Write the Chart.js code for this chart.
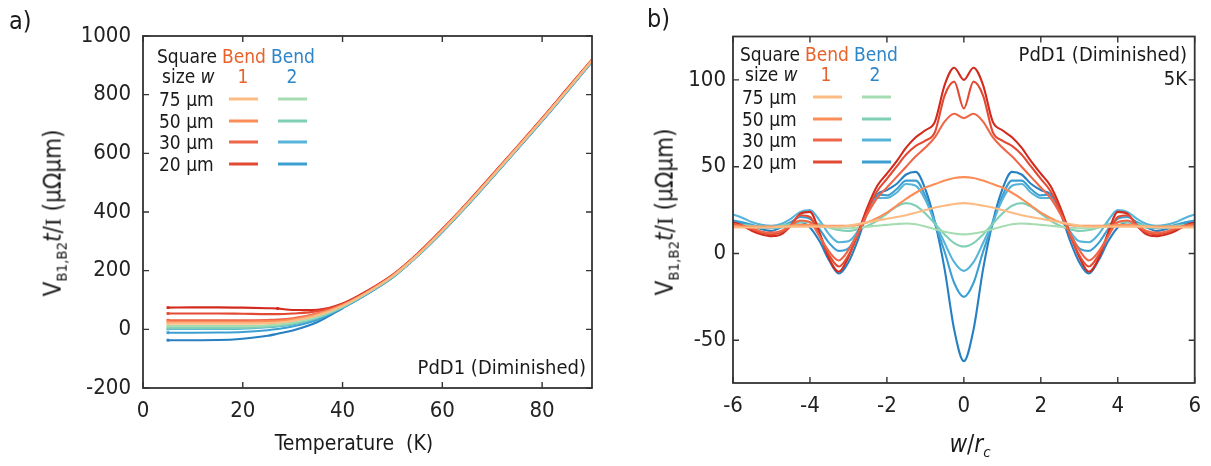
<!DOCTYPE html>
<html><head><meta charset="utf-8">
<script src="https://cdn.jsdelivr.net/npm/chart.js@4.4.1/dist/chart.umd.min.js"></script>
<style>
body{margin:0;width:1211px;height:466px;background:#fff;position:relative;overflow:hidden;font-family:'DejaVu Sans Condensed','DejaVu Sans',sans-serif;color:#1a1a1a}
canvas{position:absolute;top:0}
#ca{left:0}
#cb{left:605px}
.t{position:absolute;white-space:nowrap;line-height:1}
.c{transform:translate(-50%,-50%)}
.r{transform:translate(0,-50%)}
.sw{position:absolute;height:3px;width:29px;transform:translate(0,-50%)}
.serif{font-family:'Liberation Serif',serif}
sub{font-size:0.62em}
</style></head><body>
<canvas id="ca" width="605" height="466" style="width:605px;height:466px"></canvas>
<canvas id="cb" width="606" height="466" style="width:606px;height:466px"></canvas>
<div id="ov"></div>
<script>
// ---------- Panel a data ----------
const tempK = [5,10,15,20,25,27,30,35,40,45,50,55,60,65,70,75,80,85,90];
const aD1 = [74,75,75,74,72,71,66,67,88,132,186,258,342,432,527,623,720,820,920];
const aR1 = [54,54,54,53,52,52,54,62,86,130,184,256,340,430,525,621,718,818,919];
const aO1 = [31,31,31,31,32,33,38,55,84,128,183,255,339,429,524,620,717,817,918];
const aOr = [26,26,26,26,27,28,34,52,82,127,182,254,338,428,523,619,716,816,918];
const aLO = [19,19,19,19,21,23,29,48,80,126,181,253,337,427,522,618,715,815,917];
const aLG = [11,11,11,11,14,16,23,44,78,125,180,252,336,426,521,617,714,814,916];
const aTe = [4,4,4,5,9,12,19,40,76,124,179,251,335,425,520,616,713,813,915];
const aB30 = [1,1,1,2,7,10,17,38,75,123,178,250,334,424,519,615,712,812,914];
const aB20 = [-11.5,-11.5,-11,-9,-3,1,10,33,74,122,177,250,333,423,518,614,711,811,913];
const aDB = [-37,-37,-36.5,-32,-22,-15,-4,25,72,121,176,249,332,422,517,613,710,810,912];
const aXTicks = [0,20,40,60,80];
const aYTicks = [-200,0,200,400,600,800,1000];

// ---------- Panel b data ----------
const wrc = [-6,-5.75,-5.5,-5.25,-5,-4.75,-4.5,-4.25,-4,-3.75,-3.5,-3.25,-3,-2.75,-2.5,-2.25,-2,-1.75,-1.5,-1.25,-1,-0.75,-0.5,-0.25,0,0.25,0.5,0.75,1,1.25,1.5,1.75,2,2.25,2.5,2.75,3,3.25,3.5,3.75,4,4.25,4.5,4.75,5,5.25,5.5,5.75,6];
const bD1 = [18,16,13,11,10,11,16,23,24,12,-3,-10.5,-2,12,27,39,46,53,61,67,71,76,97,107,100,107,97,76,71,67,61,53,46,39,27,12,-2,-10.5,-3,12,24,23,16,11,10,11,13,16,18];
const bR1 = [17,16,14,12,11,12,16,22,21,10,-1,-7.5,-1,11,25,36,43,50,57,62,65,70,91,99,83.5,99,91,70,65,62,57,50,43,36,25,11,-1,-7.5,-1,10,21,22,16,12,11,12,14,16,17];
const bO1 = [17,16,14.5,12.5,12,13,16,19,18,10,1,-4,2,12,23,32,38,44,50,56,61,67,76,80.5,78,80.5,76,67,61,56,50,44,38,32,23,12,2,-4,1,10,18,19,16,13,12,12.5,14.5,16,17];
const bOr = [16,15.5,15.5,15.5,15.5,15.5,16,16.5,16.5,16,16,16,16,16.5,18,20.5,23.5,27.5,31.5,35,38,40,42,43.5,44,43.5,42,40,38,35,31.5,27.5,23.5,20.5,18,16.5,16,16,16,16,16.5,16.5,16,15.5,15.5,15.5,15.5,15.5,16];
const bLO = [15,15,15,15,15,15.5,15.5,15.5,15.5,15.5,15.5,15.5,16,17,18,19,20,21,22,23.5,25,26.5,27.5,28.5,29,28.5,27.5,26.5,25,23.5,22,21,20,19,18,17,16,15.5,15.5,15.5,15.5,15.5,15.5,15.5,15,15,15,15,15];
const bLG = [16,16,15.5,15,15,15,15.5,16,16,15.5,15,14.5,14.5,15,15.5,16,16.5,17,17.3,16.8,15.5,14,12.5,11.5,11,11.5,12.5,14,15.5,16.8,17.3,17,16.5,16,15.5,15,14.5,14.5,15,15.5,16,16,15.5,15,15,15,15.5,16,16];
const bTe = [17,16.5,16,15.5,15.5,16,17,18,18,17,15,13.5,13,14,16,19,23,27,29,27.5,23,17,11,6,4,6,11,17,23,27.5,29,27,23,19,16,14,13,13.5,15,17,18,18,17,16,15.5,15.5,16,16.5,17];
const bB30 = [22.5,20.5,18,16.5,16,17,20,24,25,19,11,6.5,7,13,24,32,32,35,40,39,31,18,6,-5,-10,-5,6,18,31,39,40,35,32,32,24,13,7,6.5,11,19,25,24,20,17,16,16.5,18,20.5,22.5];
const bB20 = [19,18,16.5,15,14.5,15.5,18,21,20,14,6,1.5,3,12,25,34,33.5,37,42,42,33,17,1,-17,-25,-17,1,17,33,42,42,37,33.5,34,25,12,3,1.5,6,14,20,21,18,15.5,14.5,15,16.5,18,19];
const bDB = [18,17.5,16,14,13,15,17,18,15,7,-4,-11.5,-5,8,24,34,36.5,40,45.5,47,37,18,-9,-44,-62,-44,-9,18,37,47,45.5,40,36.5,34,24,8,-5,-11.5,-4,7,15,18,17,15,13,14,16,17.5,18];
const bXTicks = [-6,-4,-2,0,2,4,6];
const bYTicks = [-50,0,50,100];

const sizes = ['75 µm','50 µm','30 µm','20 µm'];
const col = {LO:'#fdbb84',Or:'#fc8d59',O1:'#ef6548',R1:'#e34a33',D1:'#d22a1c',
             LG:'#a6dcb2',Te:'#7fcfb6',B30:'#56b4d8',B20:'#3c9fd2',DB:'#2680c2'};

const pts = (xs, ys) => xs.map((x,i)=>({x, y: ys[i]}));
const ds = (xs, ys, c, radii) => ({data: pts(xs, ys), borderColor: c, backgroundColor: c, borderWidth: 2.1,
  pointRadius: radii || 0, pointStyle: 'rect', pointBorderWidth: 0, fill: false, cubicInterpolationMode: 'monotone'});
const endMark = [2,0,0,0,0,0,0,0,0,0,0,0,0,0,0,0,0,0,0];
const blipMark = [2,0,0,0,0,2,0,0,0,0,0,0,0,0,0,0,0,0,0];

const frame = {id:'frame', afterDatasetsDraw(chart){
  const {ctx, chartArea:a, scales:{x,y}} = chart;
  ctx.save(); ctx.strokeStyle = '#333'; ctx.lineWidth = 1.8;
  ctx.strokeRect(a.left, a.top, a.right-a.left, a.bottom-a.top);
  ctx.lineWidth = 1.4; const L = 6;
  x.ticks.forEach(t=>{const p = x.getPixelForValue(t.value); ctx.beginPath(); ctx.moveTo(p,a.bottom); ctx.lineTo(p,a.bottom-L); ctx.moveTo(p,a.top); ctx.lineTo(p,a.top+L); ctx.stroke();});
  y.ticks.forEach(t=>{const p = y.getPixelForValue(t.value); ctx.beginPath(); ctx.moveTo(a.left,p); ctx.lineTo(a.left+L,p); ctx.moveTo(a.right,p); ctx.lineTo(a.right-L,p); ctx.stroke();});
  ctx.restore();
}};

const FONT = "'DejaVu Sans Condensed','DejaVu Sans',sans-serif";
function mkScales(xmin,xmax,xt,ymin,ymax,yt,yw,xh,ypad){
  return {
    x:{type:'linear',min:xmin,max:xmax,grid:{display:false,drawTicks:false},border:{display:false},
       afterBuildTicks:s=>{s.ticks = xt.map(v=>({value:v}));},
       afterFit:s=>{s.height = xh;},
       ticks:{font:{family:FONT,size:22},color:'#222',padding:10,maxRotation:0,autoSkip:false,callback:v=>String(v)}},
    y:{type:'linear',min:ymin,max:ymax,grid:{display:false,drawTicks:false},border:{display:false},
       afterBuildTicks:s=>{s.ticks = yt.map(v=>({value:v}));},
       afterFit:s=>{s.width = yw;},
       ticks:{font:{family:FONT,size:22},color:'#222',padding:ypad,autoSkip:false,callback:v=>String(v)}}
  };
}
const common = {responsive:false, animation:false, devicePixelRatio:1,
  plugins:{legend:{display:false},tooltip:{enabled:false}}};

new Chart(document.getElementById('ca'), {
  type:'line',
  data:{datasets:[
    ds(tempK,aLO,col.LO,endMark), ds(tempK,aOr,col.Or,endMark), ds(tempK,aO1,col.O1,endMark), ds(tempK,aR1,col.R1,endMark), ds(tempK,aD1,col.D1,blipMark),
    ds(tempK,aLG,col.LG,endMark), ds(tempK,aTe,col.Te,endMark), ds(tempK,aB30,col.B30,endMark), ds(tempK,aB20,col.B20,endMark), ds(tempK,aDB,col.DB,endMark)
  ]},
  options:Object.assign({}, common, {
    layout:{padding:{left:0,right:13,top:36,bottom:0}},
    scales: mkScales(0,90,aXTicks,-200,1000,aYTicks,143,78,12)
  }),
  plugins:[frame]
});

new Chart(document.getElementById('cb'), {
  type:'line',
  data:{datasets:[
    ds(wrc,bLO,col.LO), ds(wrc,bOr,col.Or), ds(wrc,bO1,col.O1), ds(wrc,bR1,col.R1), ds(wrc,bD1,col.D1),
    ds(wrc,bLG,col.LG), ds(wrc,bTe,col.Te), ds(wrc,bB30,col.B30), ds(wrc,bB20,col.B20), ds(wrc,bDB,col.DB)
  ]},
  options:Object.assign({}, common, {
    layout:{padding:{left:0,right:9,top:36.5,bottom:0}},
    scales: mkScales(-6,6,bXTicks,-74.6,125,bYTicks,128,83,7)
  }),
  plugins:[frame]
});

// ---------- text overlays ----------
const ov = document.getElementById('ov');
function txt(html, x, y, size, cls, extra){
  const d = document.createElement('div'); d.className = 't ' + (cls||'');
  d.style.left = x + 'px'; d.style.top = y + 'px'; d.style.fontSize = size + 'px';
  if (extra) d.style.cssText += extra;
  d.innerHTML = html; ov.appendChild(d); return d;
}
function sw(x, y, c){ const d = document.createElement('div'); d.className='sw'; d.style.left=x+'px'; d.style.top=y+'px'; d.style.background=c; ov.appendChild(d); }
const B1C = '#e8622a', B2C = '#2e86c8';
const leg1 = [col.LO,col.Or,col.O1,col.R1], leg2 = [col.LG,col.Te,col.B30,col.B20];
function legend(x0, y0, rowY, s1, s2){
  txt('Square', x0, y0, 19, 'r');
  txt('Bend', x0+65, y0, 19, 'r', 'color:'+B1C);
  txt('Bend', x0+114, y0, 19, 'r', 'color:'+B2C);
  txt('size <i>w</i>', x0+5, y0+20, 19, 'r');
  txt('1', x0+86, y0+20, 19, 'c', 'color:'+B1C);
  txt('2', x0+135, y0+20, 19, 'c', 'color:'+B2C);
  sizes.forEach((s,i)=>{ const yy = rowY[i]; txt(s, x0+2, yy, 19, 'r'); sw(s1, yy, leg1[i]); sw(s2, yy, leg2[i]); });
}
const yTitle = 'V<sub>B1,B2</sub><i>t</i>/<span class="serif">I</span> (μΩμm)';
// panel a
txt('a)', 9, 20, 25, 'r');
legend(157, 56, [99,121,142,163.5], 229, 278);
txt('PdD1 (Diminished)', 0, 367, 20, 'r', 'left:auto;right:'+(1211-586)+'px');
txt('Temperature&nbsp; (K)', 354, 443, 21, 'c');
txt(yTitle, 55, 213, 24, 'c', 'transform:translate(-50%,-50%) rotate(-90deg)');
// panel b
txt('b)', 647, 18, 25, 'r');
legend(740, 54, [97,119,140,162], 813, 862);
txt('PdD1 (Diminished)', 0, 54, 20, 'r', 'left:auto;right:'+(1211-1187)+'px');
txt('5K', 0, 78, 20, 'r', 'left:auto;right:'+(1211-1187)+'px');
txt('<i>w</i>/<i>r<sub>c</sub></i>', 970, 446, 24, 'c');
txt(yTitle, 667, 212, 24, 'c', 'transform:translate(-50%,-50%) rotate(-90deg)');
</script>
</body></html>
